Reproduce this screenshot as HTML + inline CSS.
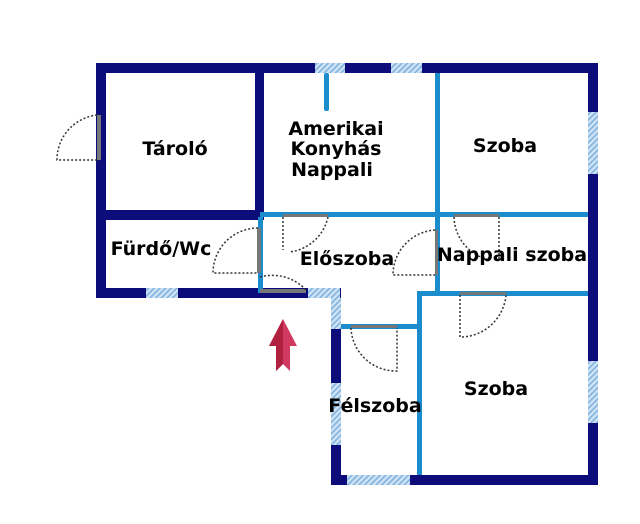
<!DOCTYPE html>
<html><head><meta charset="utf-8"><style>
html,body{margin:0;padding:0;background:#fff;}
svg{display:block}
text{font-family:"DejaVu Sans","Liberation Sans",sans-serif;font-weight:bold;font-size:19px;fill:#000;text-anchor:middle}
</style></head><body>
<svg width="640" height="524" viewBox="0 0 640 524" xmlns="http://www.w3.org/2000/svg">
<defs>
<pattern id="h" width="4" height="4" patternUnits="userSpaceOnUse" patternTransform="rotate(45)">
<rect width="4" height="4" fill="#cfe3f5"/><rect width="1.6" height="4" fill="#7fb2de"/>
</pattern>
</defs>
<g fill="#0c0c7a">
<rect x="96" y="63" width="502" height="10" rx="3"/>
<rect x="96" y="63" width="10" height="235"/>
<rect x="96" y="288" width="244" height="10"/>
<rect x="588" y="63" width="10" height="422"/>
<rect x="331" y="475" width="267" height="10"/>
<rect x="331" y="288" width="10" height="197"/>
<rect x="255" y="63" width="9" height="157"/>
<rect x="96" y="210" width="168" height="10"/>
</g>
<g fill="#1b8ccc">
<rect x="435" y="73" width="5" height="222"/>
<rect x="260" y="212" width="328" height="5"/>
<rect x="258" y="217" width="5" height="76"/>
<rect x="324" y="73" width="5" height="38" rx="2"/>
<rect x="417" y="291" width="171" height="5"/>
<rect x="417" y="291" width="5" height="184"/>
<rect x="341" y="324" width="79" height="5"/>
</g>
<g fill="url(#h)">
<rect x="315" y="63" width="30" height="10"/>
<rect x="391" y="63" width="31" height="10"/>
<rect x="588" y="112" width="10" height="62"/>
<rect x="588" y="361" width="10" height="62"/>
<rect x="146" y="288" width="32" height="10"/>
<rect x="308" y="288" width="32" height="10"/>
<rect x="331" y="298" width="10" height="31"/>
<rect x="331" y="383" width="10" height="62"/>
<rect x="347" y="475" width="63" height="10"/>
</g>
<g fill="#777"><rect x="97" y="115" width="4" height="45"/><rect x="260" y="289" width="46" height="4"/><rect x="257" y="228" width="4" height="45"/>
<rect x="283" y="214" width="45" height="3"/><rect x="435" y="230" width="3" height="45"/><rect x="454" y="214" width="45" height="3"/><rect x="460" y="292" width="46" height="3"/><rect x="351" y="325" width="46" height="3"/></g>
<g fill="none" stroke="#333" stroke-width="1.5" stroke-dasharray="2,2">
<path d="M97 115 A45 45 0 0 0 57 160 L97 160"/>
<path d="M258 228 A45 45 0 0 0 213 273 L258 273"/>
<path d="M260 277 A46 46 0 0 1 306 290"/>
<path d="M283 217 L283 250 M328 217 A45 45 0 0 1 290 252"/>
<path d="M435 230 A45 45 0 0 0 393 275 L435 275"/>
<path d="M454 217 A45 45 0 0 0 490 260 M499 217 L499 260"/>
<path d="M460 295 L460 337 A46 46 0 0 0 506 295"/>
<path d="M351 328 A45 45 0 0 0 397 371 L397 328"/>
</g>
<path d="M283 319 L297 346 L290 346 L290 371 L283 364 L276 371 L276 346 L269 346 Z" fill="#d03a60"/>
<path d="M283 319 L283 364 L276 371 L276 346 L269 346 Z" fill="#b0203f"/>
<text x="175" y="155">Tároló</text>
<text x="336" y="135">Amerikai</text>
<text x="336" y="155">Konyhás</text>
<text x="332" y="176">Nappali</text>
<text x="505" y="152">Szoba</text>
<text x="161" y="255">Fürdő/Wc</text>
<text x="347" y="265">Előszoba</text>
<text x="512" y="261">Nappali szoba</text>
<text x="375" y="412">Félszoba</text>
<text x="496" y="395">Szoba</text>
</svg>
</body></html>
